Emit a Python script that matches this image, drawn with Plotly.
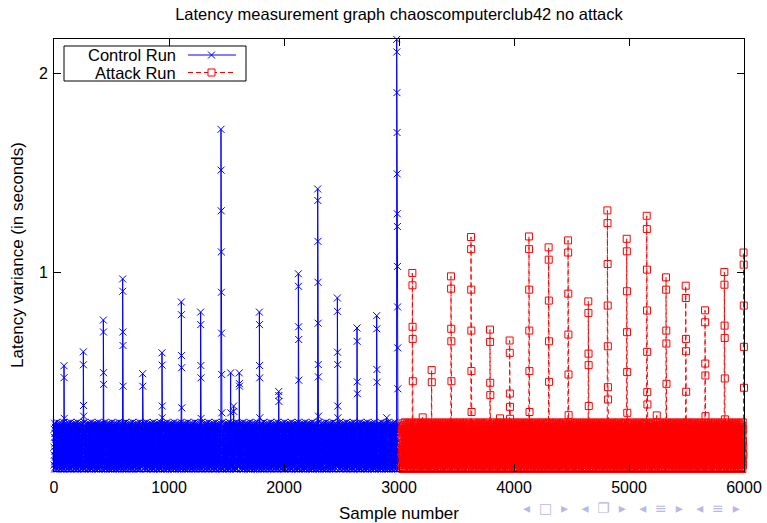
import plotly.graph_objects as go

# ---------------- data ----------------
CONTROL_START, CONTROL_END = 0, 2999
ATTACK_START, ATTACK_END = 3025, 6000

# Noise floor of the dense band (individual samples are not resolvable in the
# picture; this hand-read set of band values repeats along the samples).
NOISE_FLOOR = [0.12, 0.03, 0.21, 0.08, 0.17, 0.01, 0.24, 0.10, 0.05, 0.19,
               0.14, 0.02, 0.22, 0.07, 0.16, 0.04, 0.23, 0.11, 0.06, 0.20,
               0.13, 0.01, 0.18, 0.09, 0.245, 0.05, 0.15, 0.03, 0.21, 0.12,
               0.08, 0.19, 0.01, 0.17, 0.10, 0.23, 0.06, 0.14, 0.04, 0.22,
               0.11, 0.02, 0.20, 0.07, 0.16, 0.03, 0.24, 0.09, 0.13, 0.05,
               0.18, 0.01, 0.21, 0.10, 0.15, 0.06, 0.235, 0.08, 0.12, 0.04]

CONTROL_SPIKE_AT = [87, 255, 429, 597, 771, 939, 1107, 1275, 1452, 1536, 1562,
                    1611, 1786, 1954, 2125, 2293, 2464, 2635, 2806, 2893, 2980]
CONTROL_SPIKE_VALUES = [
    [0.53, 0.47, 0.265],
    [0.60, 0.535, 0.33, 0.276],
    [0.76, 0.70, 0.495, 0.436],
    [0.967, 0.905, 0.70, 0.632, 0.427],
    [0.49, 0.427],
    [0.595, 0.533, 0.327, 0.268],
    [0.851, 0.787, 0.581, 0.52, 0.318],
    [0.80, 0.737, 0.531, 0.469, 0.265],
    [1.72, 1.515, 1.31, 1.103, 0.90, 0.694, 0.486, 0.293],
    [0.494, 0.293],
    [0.327, 0.30],
    [0.494, 0.44, 0.427],
    [0.80, 0.737, 0.531, 0.469, 0.268],
    [0.40, 0.38, 0.35],
    [0.993, 0.93, 0.726, 0.662, 0.457],
    [1.42, 1.362, 1.156, 0.95, 0.744, 0.536, 0.474, 0.276],
    [0.871, 0.804, 0.598, 0.536, 0.327, 0.268],
    [0.72, 0.653, 0.449, 0.389],
    [0.782, 0.716, 0.511, 0.447],
    [0.268],
    [2.173, 2.11, 1.905, 1.704, 1.496, 1.295, 1.231, 1.03, 0.826, 0.62, 0.414],
]

ATTACK_SPIKE_AT = [3116, 3206, 3284, 3452, 3626, 3791, 3878, 3962, 4130, 4301,
                   4470, 4646, 4812, 4980, 5154, 5241, 5322, 5493, 5661, 5829, 5996]
ATTACK_SPIKE_VALUES = [
    [0.997, 0.935, 0.726, 0.665, 0.452],
    [0.27],
    [0.508, 0.447],
    [0.98, 0.918, 0.716, 0.653, 0.452],
    [1.178, 1.117, 0.913, 0.707, 0.503, 0.297],
    [0.712, 0.65, 0.444, 0.382],
    [0.265],
    [0.657, 0.595, 0.39, 0.323, 0.263],
    [1.181, 1.117, 0.913, 0.707, 0.503, 0.297],
    [1.126, 1.064, 0.858, 0.653, 0.449],
    [1.161, 1.10, 0.893, 0.687, 0.486, 0.281],
    [0.854, 0.796, 0.591, 0.533, 0.327],
    [1.312, 1.248, 1.042, 0.833, 0.628, 0.422, 0.36],
    [1.169, 1.106, 0.905, 0.699, 0.498, 0.293],
    [1.285, 1.218, 1.014, 0.808, 0.60, 0.397, 0.335],
    [0.28],
    [0.975, 0.913, 0.707, 0.642, 0.439],
    [0.933, 0.871, 0.665, 0.603, 0.399],
    [0.809, 0.749, 0.541, 0.481, 0.276],
    [1.002, 0.938, 0.732, 0.67, 0.466, 0.26],
    [1.10, 1.039, 0.833, 0.625, 0.419],
]

X_TICKS = [0, 1000, 2000, 3000, 4000, 5000, 6000]
Y_TICKS = [1, 2]

TITLE = "Latency measurement graph chaoscomputerclub42 no attack"
X_TITLE = "Sample number"
Y_TITLE = "Latency variance (in seconds)"
NAMES = ["Control Run", "Attack Run"]
COLORS = ["#0000ff", "#ff0000"]
RED_DASH = "5px,3px"


def build(start, end, spike_at, spike_values):
    xs = list(range(start, end + 1))
    ys = [NOISE_FLOOR[i % len(NOISE_FLOOR)] for i in range(len(xs))]
    for at, vals in zip(spike_at, spike_values):
        for k, v in enumerate(vals):
            idx = at - start + k
            if 0 <= idx < len(ys):
                ys[idx] = v
    return xs, ys


cx, cy = build(CONTROL_START, CONTROL_END, CONTROL_SPIKE_AT, CONTROL_SPIKE_VALUES)
ax, ay = build(ATTACK_START, ATTACK_END, ATTACK_SPIKE_AT, ATTACK_SPIKE_VALUES)

FONT = "Liberation Sans, Arial, sans-serif"
W, H = 767, 523
ML, MR, MT, MB = 54, 23, 39, 52
PW, PH = W - ML - MR, H - MT - MB


def px_x(p):  # page pixel -> paper x
    return (p - ML) / PW


def px_y(p):  # page pixel -> paper y
    return (H - MB - p) / PH


fig = go.Figure()
fig.add_trace(go.Scatter(
    x=cx, y=cy, name=NAMES[0], mode="lines+markers", cliponaxis=False,
    showlegend=False,
    line=dict(color=COLORS[0], width=1),
    marker=dict(symbol="x-thin-open", size=7, color=COLORS[0],
                line=dict(color=COLORS[0], width=1)),
))
fig.add_trace(go.Scatter(
    x=ax, y=ay, name=NAMES[1], mode="lines+markers", cliponaxis=False,
    showlegend=False,
    line=dict(color=COLORS[1], width=1, dash=RED_DASH),
    marker=dict(symbol="square-open", size=7, color=COLORS[1],
                line=dict(color=COLORS[1], width=1)),
))

axis_common = dict(
    showgrid=False, zeroline=False, showline=True, linecolor="black",
    linewidth=1, mirror="ticks", ticks="inside", ticklen=7,
    tickcolor="black", tickfont=dict(family=FONT, size=16, color="black"),
    automargin=False,
)

fig.update_layout(
    width=W, height=H,
    margin=dict(l=ML, r=MR, t=MT, b=MB),
    paper_bgcolor="white", plot_bgcolor="white",
    font=dict(family=FONT, size=16, color="black"),
    title=dict(text=TITLE, x=0.5, xref="paper", y=1 - 14 / H, yref="container",
               yanchor="middle", font=dict(family=FONT, size=16.5)),
    xaxis=dict(range=[0, 6000], tickvals=X_TICKS, ticklabelstandoff=2,
               title=dict(text=X_TITLE, font=dict(family=FONT, size=17), standoff=12),
               **axis_common),
    yaxis=dict(range=[0, 2.175], tickvals=Y_TICKS, ticklabelstandoff=2,
               title=dict(text=Y_TITLE, font=dict(family=FONT, size=17), standoff=10),
               **axis_common),
    showlegend=False,
)

# ---- gnuplot-style key (text right-aligned, sample to the right) ----
shapes = [dict(type="rect", xref="paper", yref="paper",
               x0=px_x(64), x1=px_x(246), y0=px_y(81), y1=px_y(46),
               line=dict(color="black", width=1), fillcolor="white", layer="above")]
rows_y = [55, 72.5]
for name, col, ry, k in zip(NAMES, COLORS, rows_y, range(2)):
    fig.add_annotation(text=name, xref="paper", yref="paper", x=px_x(178), y=px_y(ry),
                       xanchor="right", yanchor="middle", showarrow=False,
                       font=dict(family=FONT, size=16.5, color="black"))
    shapes.append(dict(type="line", xref="paper", yref="paper",
                       x0=px_x(188), x1=px_x(236), y0=px_y(ry), y1=px_y(ry),
                       line=dict(color=col, width=1, dash="solid" if k == 0 else RED_DASH),
                       layer="above"))
    cxp, cyp = px_x(211.5), px_y(ry)
    if k == 0:
        for s in (1, -1):
            shapes.append(dict(type="line", xref="paper", yref="paper",
                               xsizemode="pixel", ysizemode="pixel",
                               xanchor=cxp, yanchor=cyp,
                               x0=-3.5, x1=3.5, y0=-3.5 * s, y1=3.5 * s,
                               line=dict(color=col, width=1), layer="above"))
    else:
        shapes.append(dict(type="rect", xref="paper", yref="paper",
                           xsizemode="pixel", ysizemode="pixel",
                           xanchor=cxp, yanchor=cyp,
                           x0=-3.5, x1=3.5, y0=-3.5, y1=3.5,
                           line=dict(color=col, width=1), fillcolor="white",
                           layer="above"))
fig.update_layout(shapes=shapes)

# beamer navigation symbols (decoration at the bottom right)
fig.add_annotation(
    text="◂  □  ▸   ◂  ❐  ▸   ◂  ≡  ▸   ◂  ≡  ▸",
    xref="paper", yref="paper", x=px_x(742), y=px_y(508), xanchor="right",
    yanchor="middle", showarrow=False,
    font=dict(family="DejaVu Sans", size=14, color="#b8b8e0"),
)

fig.write_html("out.html", config={"displayModeBar": False},
               post_script="document.body.style.margin='0';document.body.style.padding='0';")
